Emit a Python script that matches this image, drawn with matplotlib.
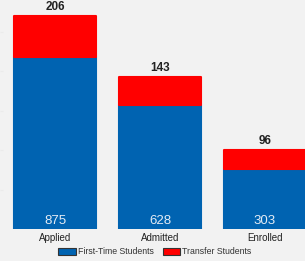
import matplotlib.pyplot as plt
from matplotlib.patches import Patch

plt.rcParams['font.family'] = ['Liberation Sans', 'DejaVu Sans']

stages = ["Applied", "Admitted", "Enrolled"]
first_time = [875, 628, 303]
transfer = [206, 143, 96]

blue = "#0063b1"
red = "#ff0000"
bg = "#f2f2f2"

fig = plt.figure(figsize=(3.05, 2.61), dpi=100, facecolor=bg)
ax = fig.add_axes([0, 32/261, 1, 229/261], facecolor=bg)

x = list(range(len(stages)))
b1 = ax.bar(x, first_time, width=0.78, color=blue, edgecolor=blue, linewidth=1.5)
b2 = ax.bar(x, transfer, width=0.78, bottom=first_time, color=red, edgecolor=red, linewidth=1.5)
for p in list(b1) + list(b2):
    p.set_joinstyle("round")

for i in x:
    ax.text(i, first_time[i] + transfer[i] + 16, str(transfer[i]), ha="center", va="bottom",
            fontsize=8.5, fontweight="bold", color="#222222")
    ax.text(i, 40, str(first_time[i]), ha="center", va="center", fontsize=9.5, color="#e4ecf5")

ax.set_xlim(-55/105, 250/105)
ax.set_ylim(0, 1162)
ax.set_yticks([200, 400, 600, 800, 1000])
ax.tick_params(axis="y", length=2, color="#ebebeb", labelleft=False, direction="in")
ax.set_xticks(x)
ax.set_xticklabels(stages, fontsize=7, color="#222222")
ax.tick_params(axis="x", length=0, pad=3)
for s in ax.spines.values():
    s.set_visible(False)

handles = [Patch(facecolor=blue, edgecolor="#333333", linewidth=0.8, label="First-Time Students"),
           Patch(facecolor=red, edgecolor="#333333", linewidth=0.8, label="Transfer Students")]
fig.legend(handles=handles, loc="center", bbox_to_anchor=(0.508, 9/261), ncol=2, frameon=False,
           fontsize=6.3, handlelength=2.0, handleheight=0.9, handletextpad=0.25, columnspacing=1.0,
           labelcolor="#333333")

fig.savefig("out.png", dpi=100, facecolor=bg)
